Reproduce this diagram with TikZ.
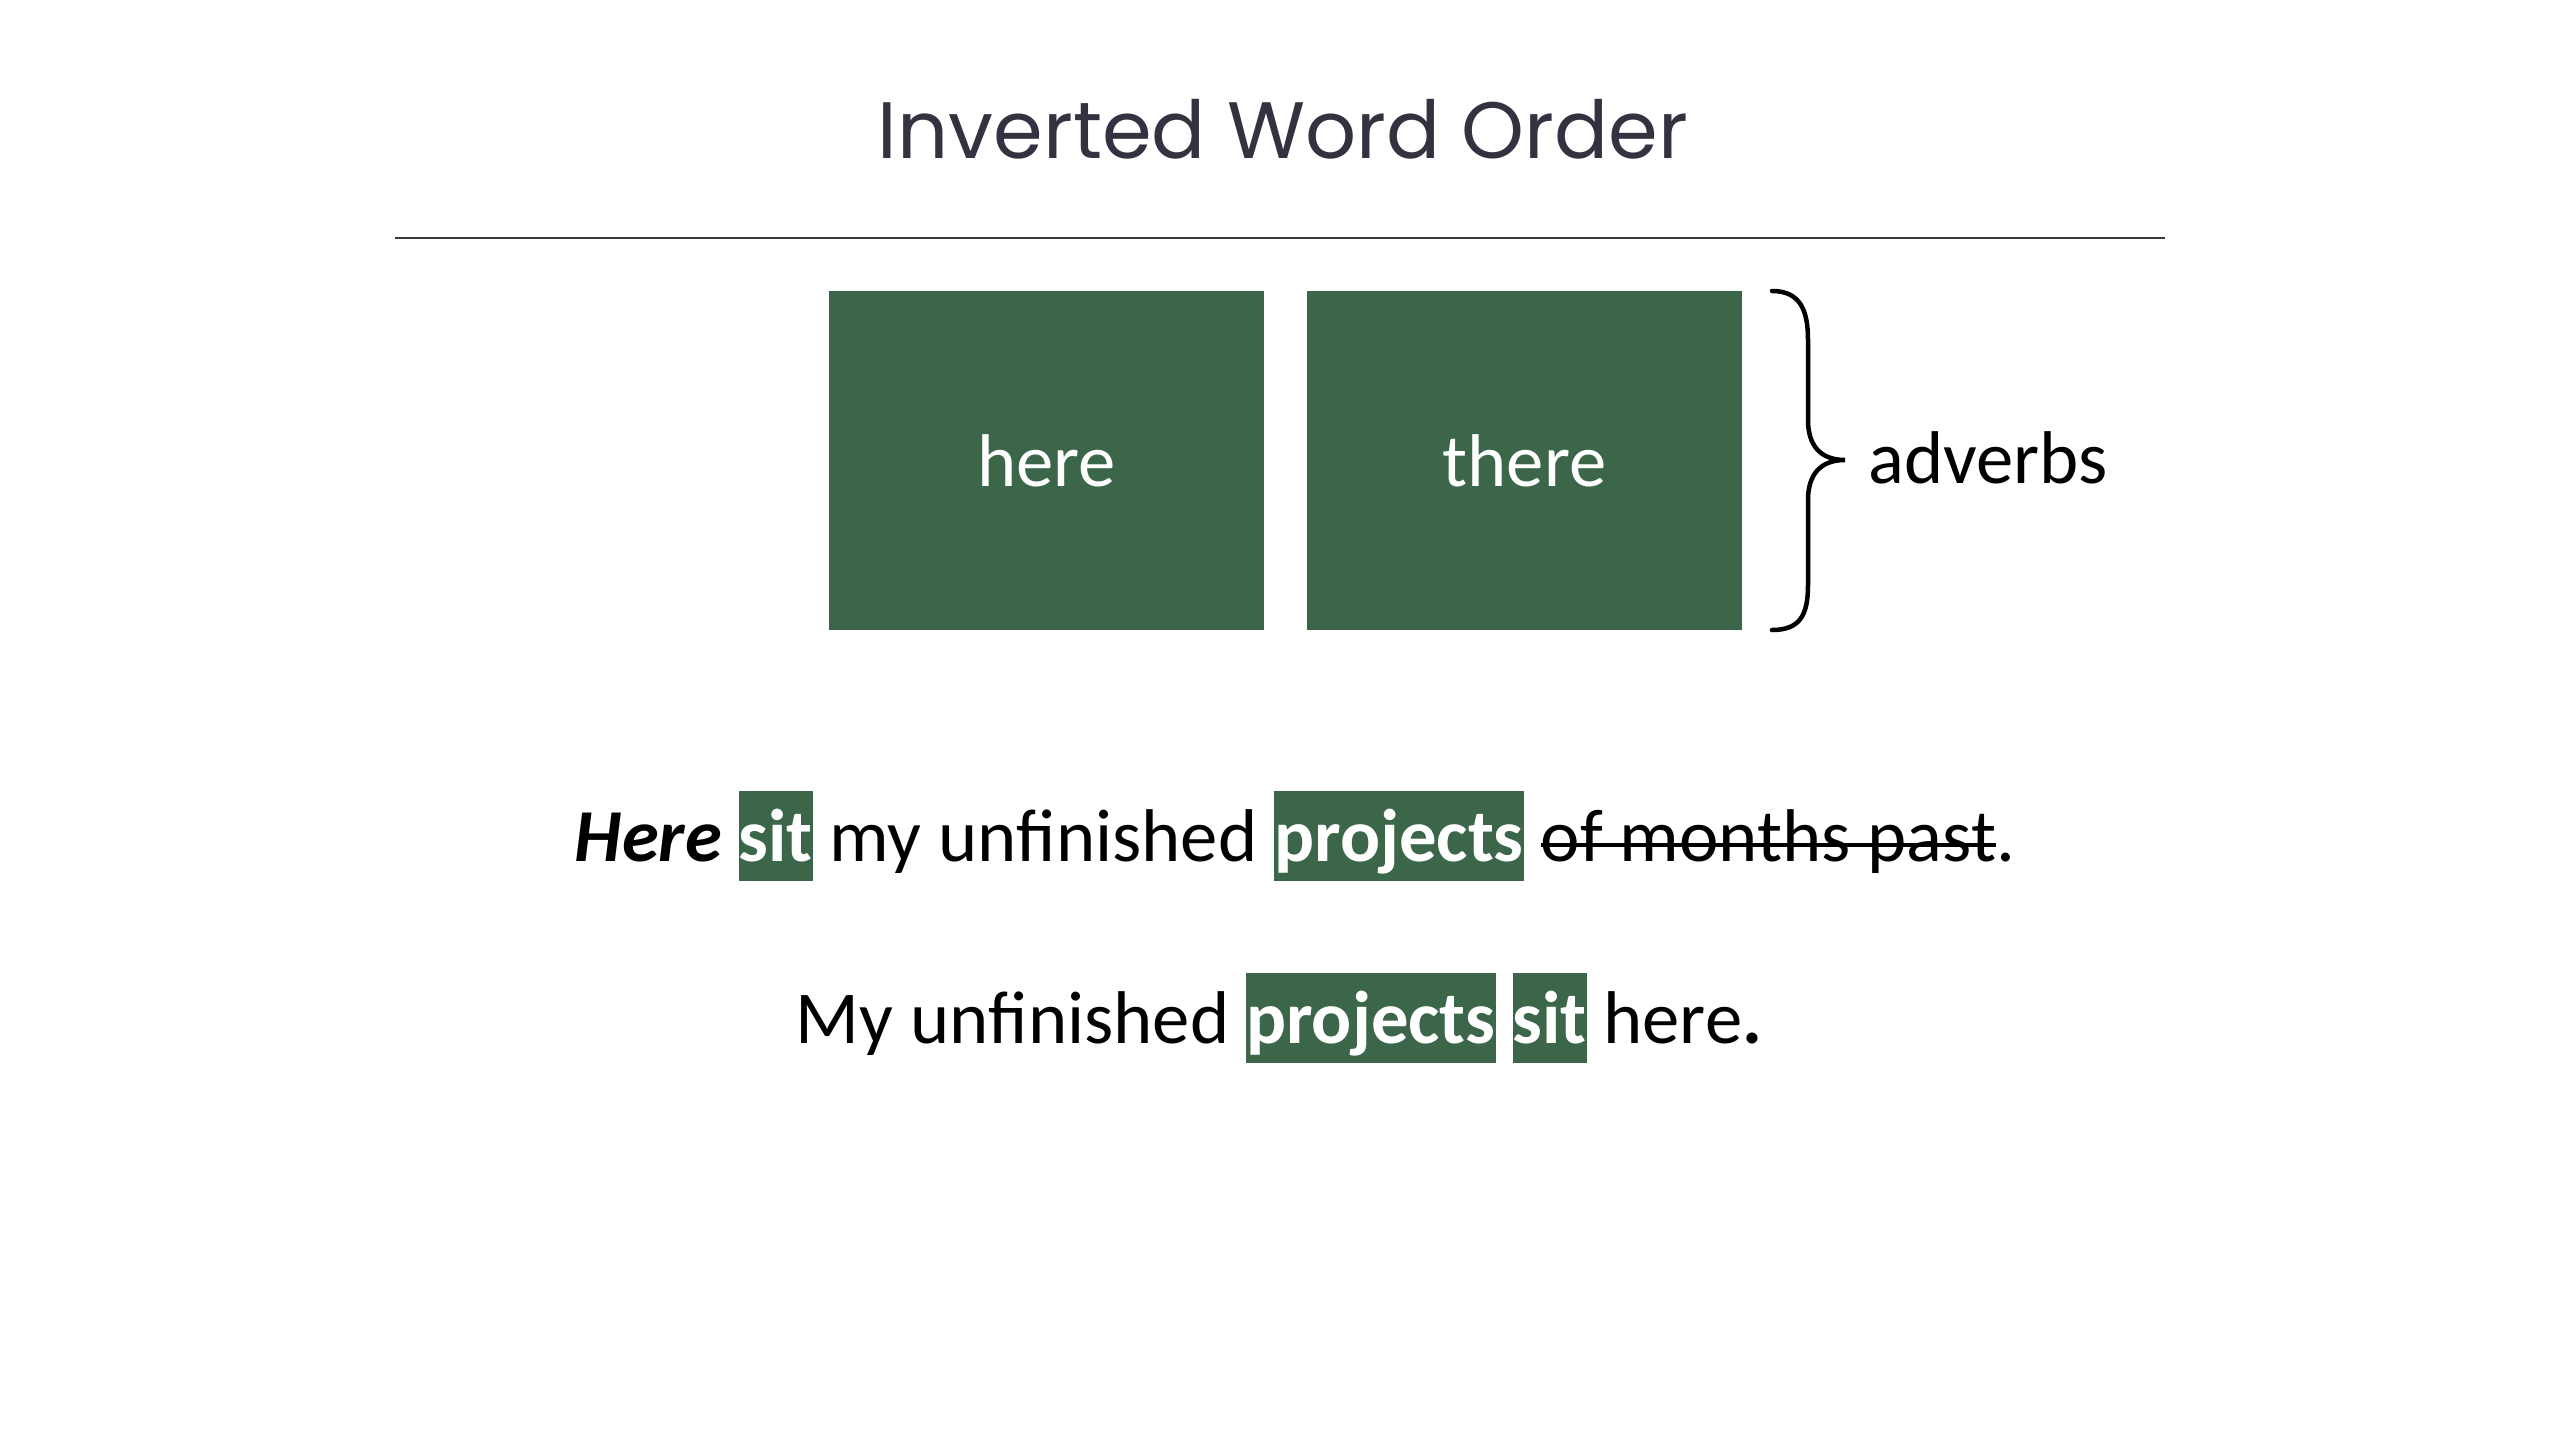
\documentclass[tikz,border=0pt]{standalone}
\usepackage{fontspec}
\setmainfont{Carlito}
\newfontfamily\titlefont{Poppins}
\definecolor{boxgreen}{RGB}{59,102,73}
\definecolor{titlegray}{RGB}{50,50,64}
\definecolor{rulegray}{RGB}{60,60,60}
\newsavebox\strkbox
\newcommand\hlw[1]{{\fboxsep=0pt\colorbox{boxgreen}{\rule[-20pt]{0pt}{90pt}\textcolor{white}{\bfseries #1}}}}
\newcommand\strk[1]{\sbox\strkbox{#1}\rlap{\rule[14pt]{\wd\strkbox}{4pt}}\usebox\strkbox}
\tikzset{
  bigtext/.style={font=\fontsize{74.7pt}{90pt}\selectfont},
  wordbox/.style={bigtext, fill=boxgreen, text=white, minimum width=435pt, minimum height=339pt, inner sep=0pt},
  sentence/.style={bigtext, inner sep=0pt, anchor=base},
}
\begin{document}
\begin{tikzpicture}[x=1pt,y=-1pt]
\useasboundingbox (0,0) rectangle (2560,1440);
\node[anchor=base, inner sep=0pt, text=titlegray, font=\titlefont\fontsize{80pt}{96pt}\selectfont] (title) at (1283,158) {Inverted Word Order};
\coordinate (ruleL) at (395,238);
\coordinate (ruleR) at (2165,238);
\draw[rulegray, line width=2pt] (ruleL) -- (ruleR);
\node[wordbox] (here) at (1046.5,460.5) {here};
\node[wordbox] (there) at (1524.5,460.5) {there};
\draw[line width=4.5pt, line cap=round, line join=miter]
  (1772,291) .. controls (1800,291) and (1808,310) .. (1808,340) -- (1808,420)
  .. controls (1808,445) and (1820,460) .. (1845,460)
  .. controls (1820,460) and (1808,475) .. (1808,500) -- (1808,585)
  .. controls (1808,615) and (1800,630) .. (1772,630);
\node[bigtext, anchor=base west, inner sep=0pt] (adverbs) at (1868,483) {adverbs};
\node[sentence] (s1) at (1295,861) {\textbf{\textit{Here}} \hlw{sit} my unfinished \hlw{projects} \strk{of months past}.};
\node[sentence] (s2) at (1279,1043) {My unfinished \hlw{projects} \hlw{sit} here\textbf{.}};
\end{tikzpicture}
\end{document}
